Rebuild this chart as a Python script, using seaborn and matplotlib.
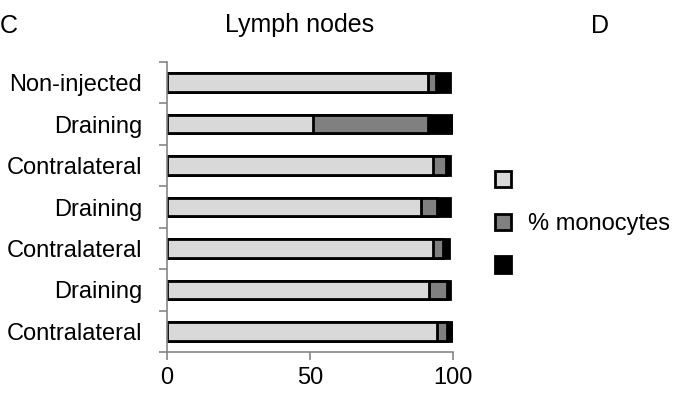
import matplotlib
matplotlib.use("Agg")
import matplotlib.pyplot as plt
import seaborn as sns
import pandas as pd
import numpy as np
from matplotlib.patches import Patch

labels = ["Non-injected", "Draining", "Contralateral", "Draining",
          "Contralateral", "Draining", "Contralateral"]
light_vals = [91.3, 51.0, 93.0, 89.0, 93.0, 91.6, 94.3]
gray_vals = [2.7, 40.3, 4.6, 5.6, 3.4, 6.2, 3.7]
black_vals = [5.0, 8.7, 1.4, 4.4, 2.3, 1.2, 1.7]
legend_labels = ["", "% monocytes", ""]
xticks = [0, 50, 100]

sns.set_theme(style="white")
plt.rcParams['font.family'] = ['Liberation Sans', 'DejaVu Sans']
plt.rcParams['text.color'] = 'black'
plt.rcParams['xtick.labelcolor'] = 'black'
plt.rcParams['ytick.labelcolor'] = 'black'

df = pd.DataFrame({
    "row": [str(i) for i in range(len(labels))],
    "light": light_vals,
    "gray": gray_vals,
    "black": black_vals,
})
df["cum_gray"] = df["light"] + df["gray"]
df["total"] = df["cum_gray"] + df["black"]

fig = plt.figure(figsize=(6.74, 3.94), dpi=100)
ax = fig.add_axes([0.2478, 0.1066, 0.672 - 0.2478, 0.8426 - 0.1066])

c_light, c_gray, c_black = "#d9d9d9", "#808080", "#000000"
for col, color in [("total", c_black), ("cum_gray", c_gray), ("light", c_light)]:
    sns.barplot(data=df, x=col, y="row", orient="h", color=color, ax=ax,
                width=0.45, edgecolor="black", linewidth=2.0, saturation=1,
                errorbar=None)

FS = 17
ax.set_xlim(0, 100)
ax.set_ylim(6.5, -0.5)
ax.set_xlabel("")
ax.set_ylabel("")
ax.set_xticks(xticks)
ax.set_xticklabels([str(t) for t in xticks], fontsize=FS, color="black")
ax.set_yticks(range(len(labels)))
ax.set_yticklabels(labels, fontsize=FS, color="black")
ax.set_yticks(np.arange(-0.5, len(labels), 1.0), minor=True)
ax.tick_params(axis="y", which="major", length=0, pad=18)
ax.tick_params(axis="y", which="minor", length=6, width=1.2, color="#868686", left=True)
ax.tick_params(axis="x", which="major", length=6, width=1.2, color="#868686", bottom=True, pad=5)

for s in ["top", "right"]:
    ax.spines[s].set_visible(False)
for s in ["left", "bottom"]:
    ax.spines[s].set_color("#868686")
    ax.spines[s].set_linewidth(1.2)

fig.text(300 / 674, 1 - 32 / 394, "Lymph nodes", ha="center", va="baseline",
         fontsize=18, color="black")
fig.text(0 / 674, 1 - 33 / 394, "C", ha="left", va="baseline", fontsize=18, color="black")
fig.text(600 / 674, 1 - 33 / 394, "D", ha="center", va="baseline", fontsize=18, color="black")

handles = [Patch(facecolor=c, edgecolor="black", linewidth=2.0)
           for c in (c_light, c_gray, c_black)]
leg = fig.legend(handles, legend_labels, loc="center left",
                 bbox_to_anchor=(474 / 674, 1 - 224 / 394), frameon=False,
                 fontsize=FS, handlelength=0.68, handleheight=0.68,
                 labelspacing=0.88, handletextpad=0.72)
for t in leg.get_texts():
    t.set_color("black")

fig.savefig("out.png", dpi=100)
